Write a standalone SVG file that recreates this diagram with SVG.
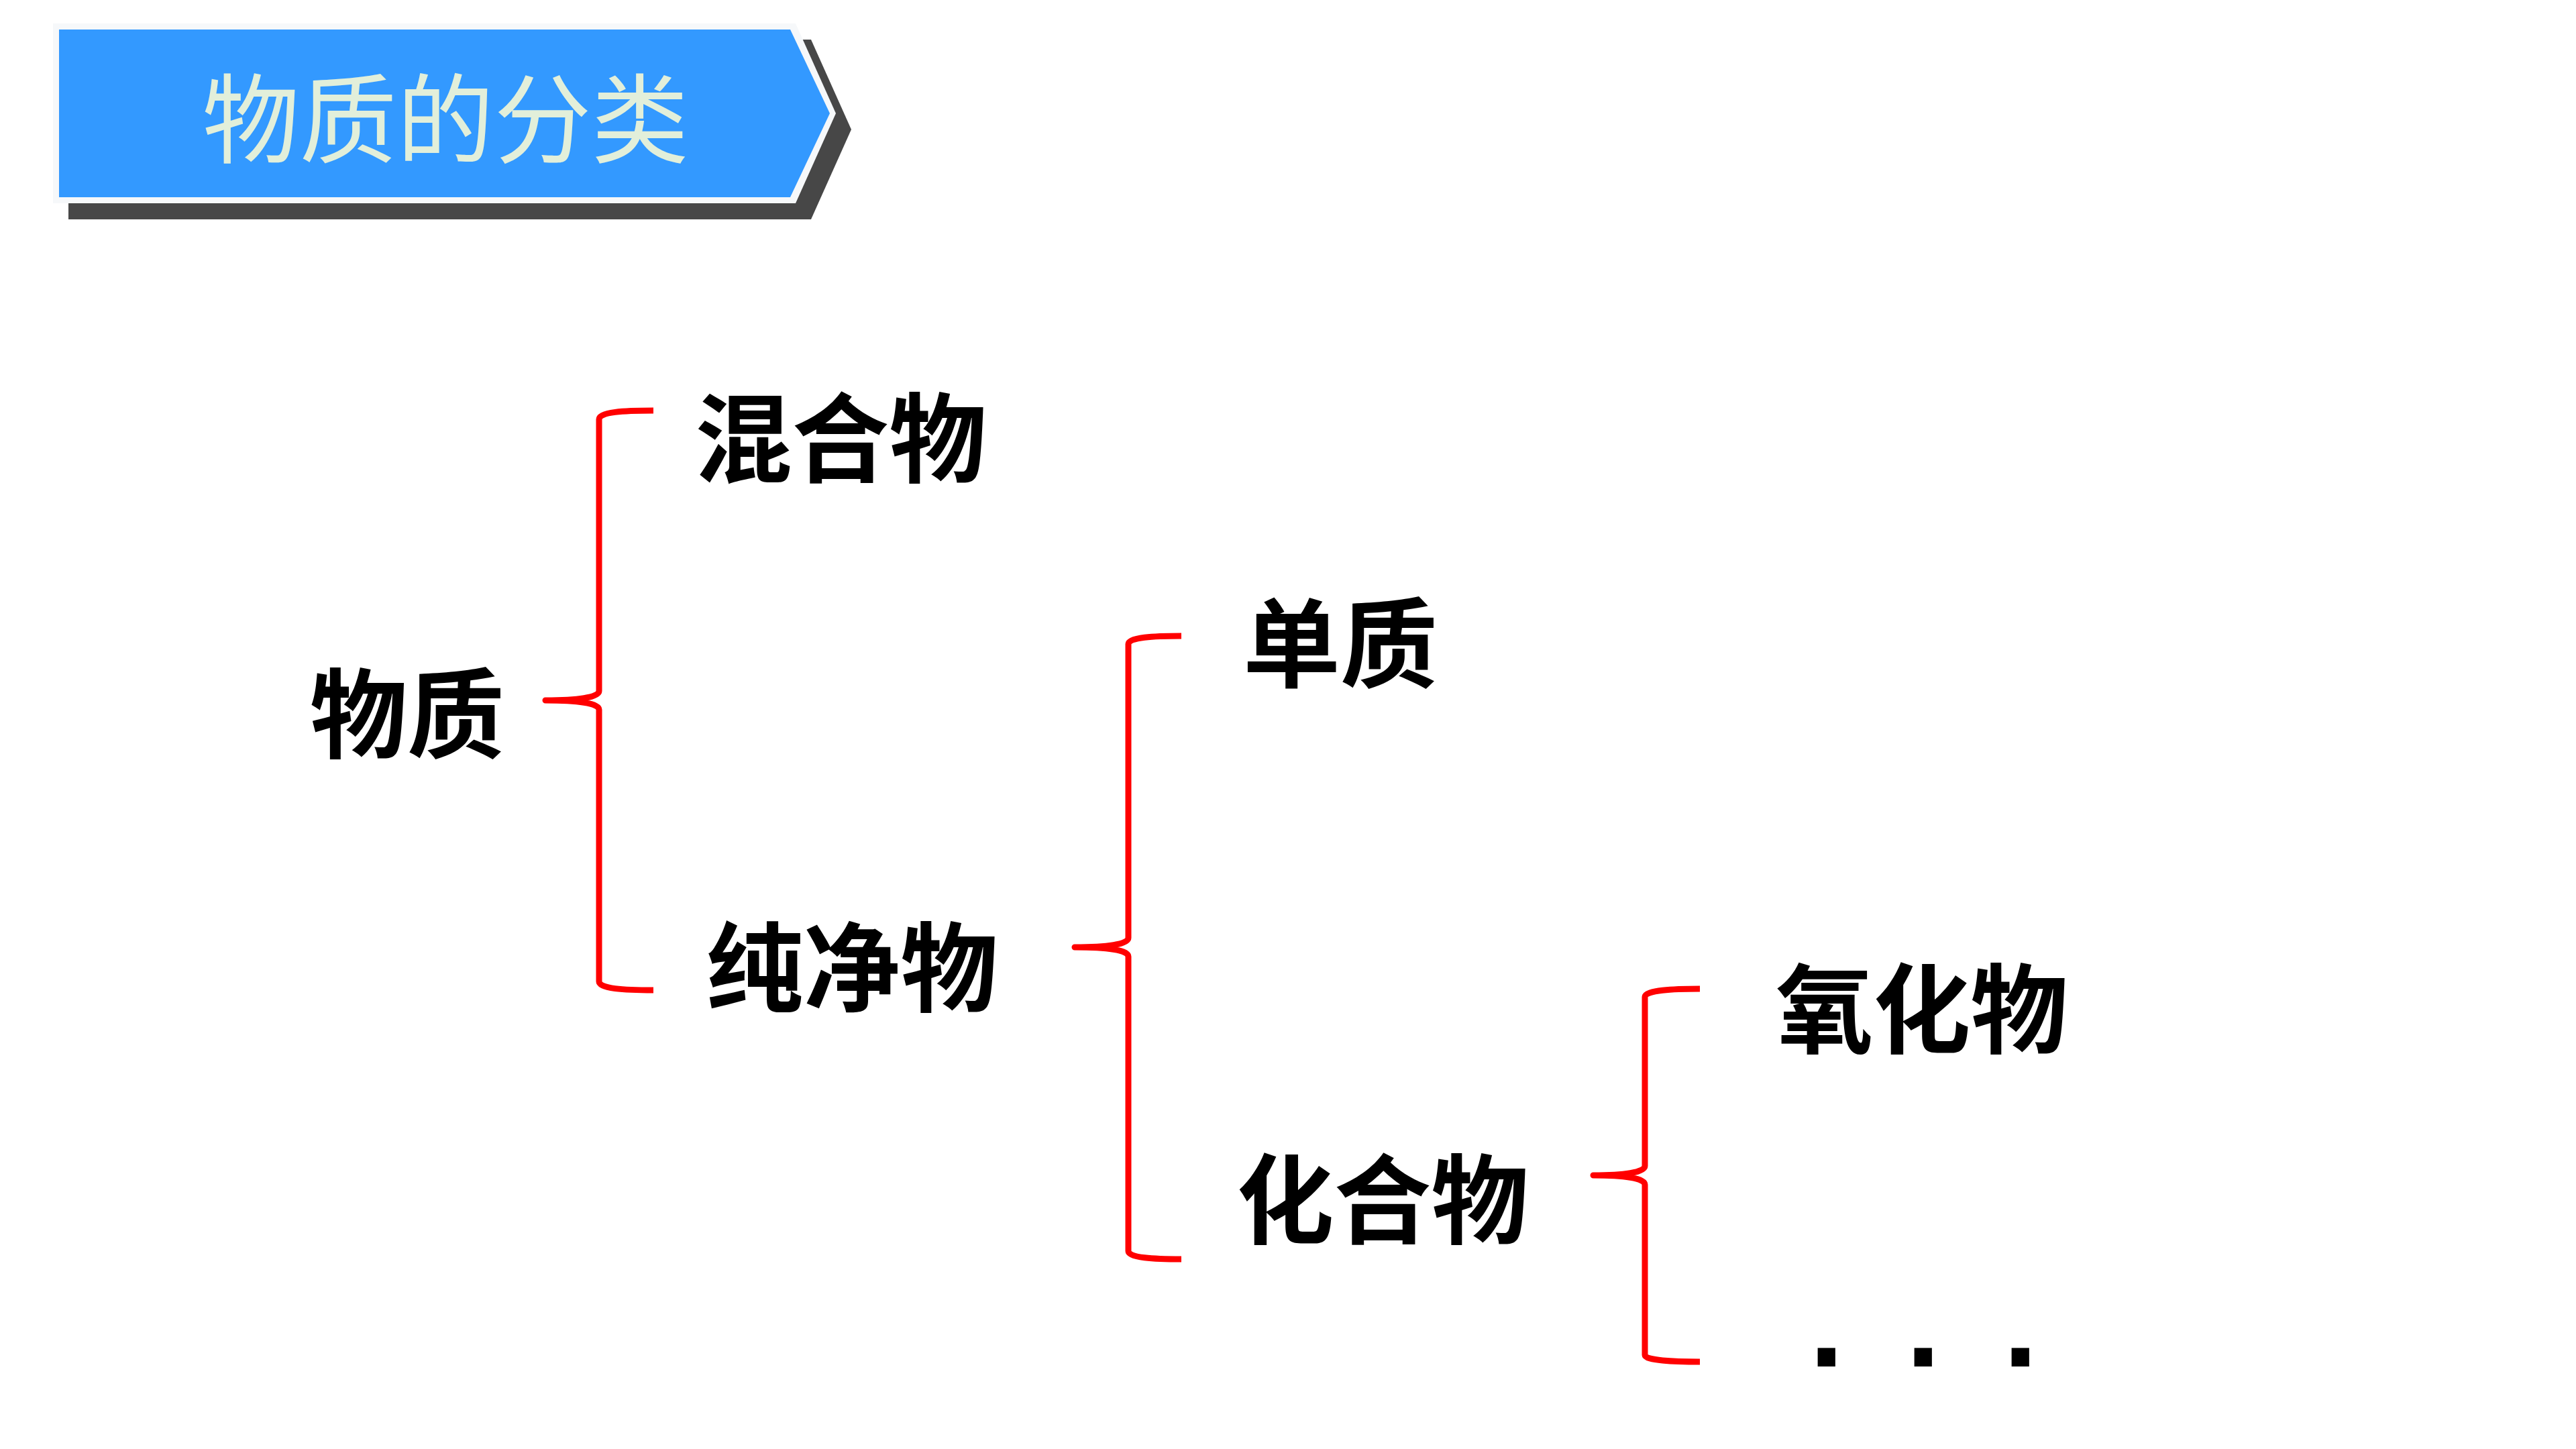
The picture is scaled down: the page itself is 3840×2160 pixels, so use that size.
<svg xmlns="http://www.w3.org/2000/svg" width="3840" height="2160" viewBox="0 0 3840 2160">
<style>
.lbl{font-family:"Noto Sans CJK SC","Noto Sans",sans-serif;font-weight:700;font-size:145px;fill:#000;text-anchor:middle}
.title{font-family:"Noto Sans CJK SC","Noto Sans",sans-serif;font-weight:400;font-size:145px;fill:#E2EFDA;text-anchor:middle}
.brace{fill:none;stroke:#FF0000;stroke-width:9;stroke-linecap:butt;stroke-linejoin:round}
</style>
<rect width="3840" height="2160" fill="#FFFFFF"/>
<g id="title">
  <polygon points="102,59 1209,59 1269,193 1209,327 102,327" fill="#474747"/>
  <polygon points="79,35 1186,35 1246,169 1186,303 79,303" fill="#F6F8FA"/>
  <polygon points="88,44 1178,44 1237,169 1178,294 88,294" fill="#3399FF"/>
  <text class="title" x="664" y="232">物质的分类</text>
</g>
<g id="connectors">
  <path class="brace" d="M974,612 C930,612 893,614 893,625 L893,1030 C893,1040 860,1044 813,1044 C860,1044 893,1048 893,1058 L893,1463 C893,1474 930,1476 974,1476"/>
  <path class="brace" d="M1761,948 C1720,948 1682,950 1682,960 L1682,1398 C1682,1408 1650,1412 1602,1412 C1650,1412 1682,1416 1682,1426 L1682,1865 C1682,1875 1720,1877 1761,1877"/>
  <path class="brace" d="M2534,1474 C2495,1474 2452,1476 2452,1486 L2452,1738 C2452,1748 2420,1752 2375,1752 C2420,1752 2452,1756 2452,1766 L2452,2020 C2452,2028 2495,2030 2534,2030"/>
</g>
<g id="node-wuzhi"><text class="lbl" x="607" y="1119">物质</text></g>
<g id="node-hunhewu"><text class="lbl" x="1253" y="708">混合物</text></g>
<g id="node-chunjingwu"><text class="lbl" x="1270" y="1497">纯净物</text></g>
<g id="node-danzhi"><text class="lbl" x="1998" y="1014">单质</text></g>
<g id="node-huahewu"><text class="lbl" x="2061" y="1843">化合物</text></g>
<g id="node-yanghuawu"><text class="lbl" x="2865" y="1559">氧化物</text></g>
<g id="node-etc"><text x="2697 2841 2986" y="2037" font-family="'Liberation Sans',Arial,sans-serif" font-weight="700" font-size="186" fill="#000">...</text></g>
</svg>
